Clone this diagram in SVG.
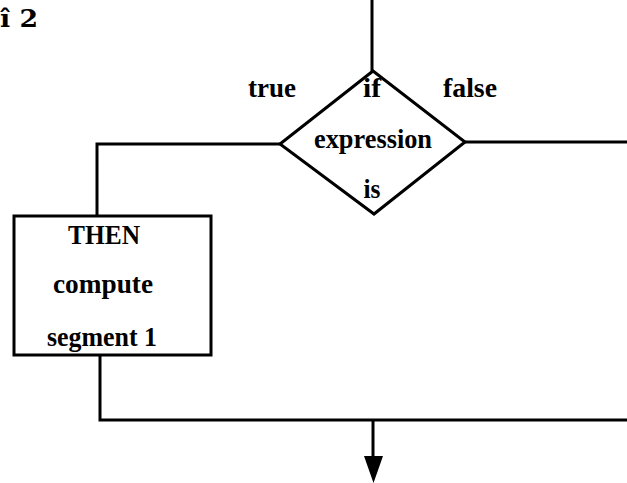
<svg xmlns="http://www.w3.org/2000/svg" width="627" height="483" viewBox="0 0 627 483">
<style>
.ln{fill:none;stroke:#000;stroke-width:3;stroke-linejoin:miter}
.t{font-family:"Liberation Serif",serif;font-weight:bold;font-size:27px;fill:#000;text-anchor:middle}
</style>
<rect width="627" height="483" fill="#fff"/>
<text x="0" y="27" textLength="38" lengthAdjust="spacingAndGlyphs" style="font-family:'DejaVu Serif',serif;font-weight:bold;font-size:24px">î 2</text>
<g id="connectors">
<path class="ln" d="M372,0 L372,71"/>
<path class="ln" d="M280,144 L97,144 L97,216"/>
<path class="ln" d="M465,142 L627,142"/>
<path class="ln" d="M100,355 L100,420 L627,420"/>
<path class="ln" d="M373,420 L373,458"/>
<path d="M364,456 L383,456 L373.5,483 Z" fill="#000"/>
</g>
<g id="decision">
<polygon class="ln" points="373,71 465,142 374,214 280,144"/>
<text class="t" x="372" y="97" textLength="18" lengthAdjust="spacingAndGlyphs">if</text>
<text class="t" x="373" y="148" textLength="118" lengthAdjust="spacingAndGlyphs">expression</text>
<text class="t" x="372" y="198" textLength="17" lengthAdjust="spacingAndGlyphs">is</text>
</g>
<g id="labels">
<text class="t" x="272" y="97" textLength="48" lengthAdjust="spacingAndGlyphs">true</text>
<text class="t" x="470" y="97" textLength="54" lengthAdjust="spacingAndGlyphs">false</text>
</g>
<g id="then-box">
<rect class="ln" x="14" y="216" width="197" height="139"/>
<text class="t" x="104" y="244" textLength="72" lengthAdjust="spacingAndGlyphs">THEN</text>
<text class="t" x="103" y="293" textLength="100" lengthAdjust="spacingAndGlyphs">compute</text>
<text class="t" x="102" y="346" textLength="110" lengthAdjust="spacingAndGlyphs">segment 1</text>
</g>
</svg>
